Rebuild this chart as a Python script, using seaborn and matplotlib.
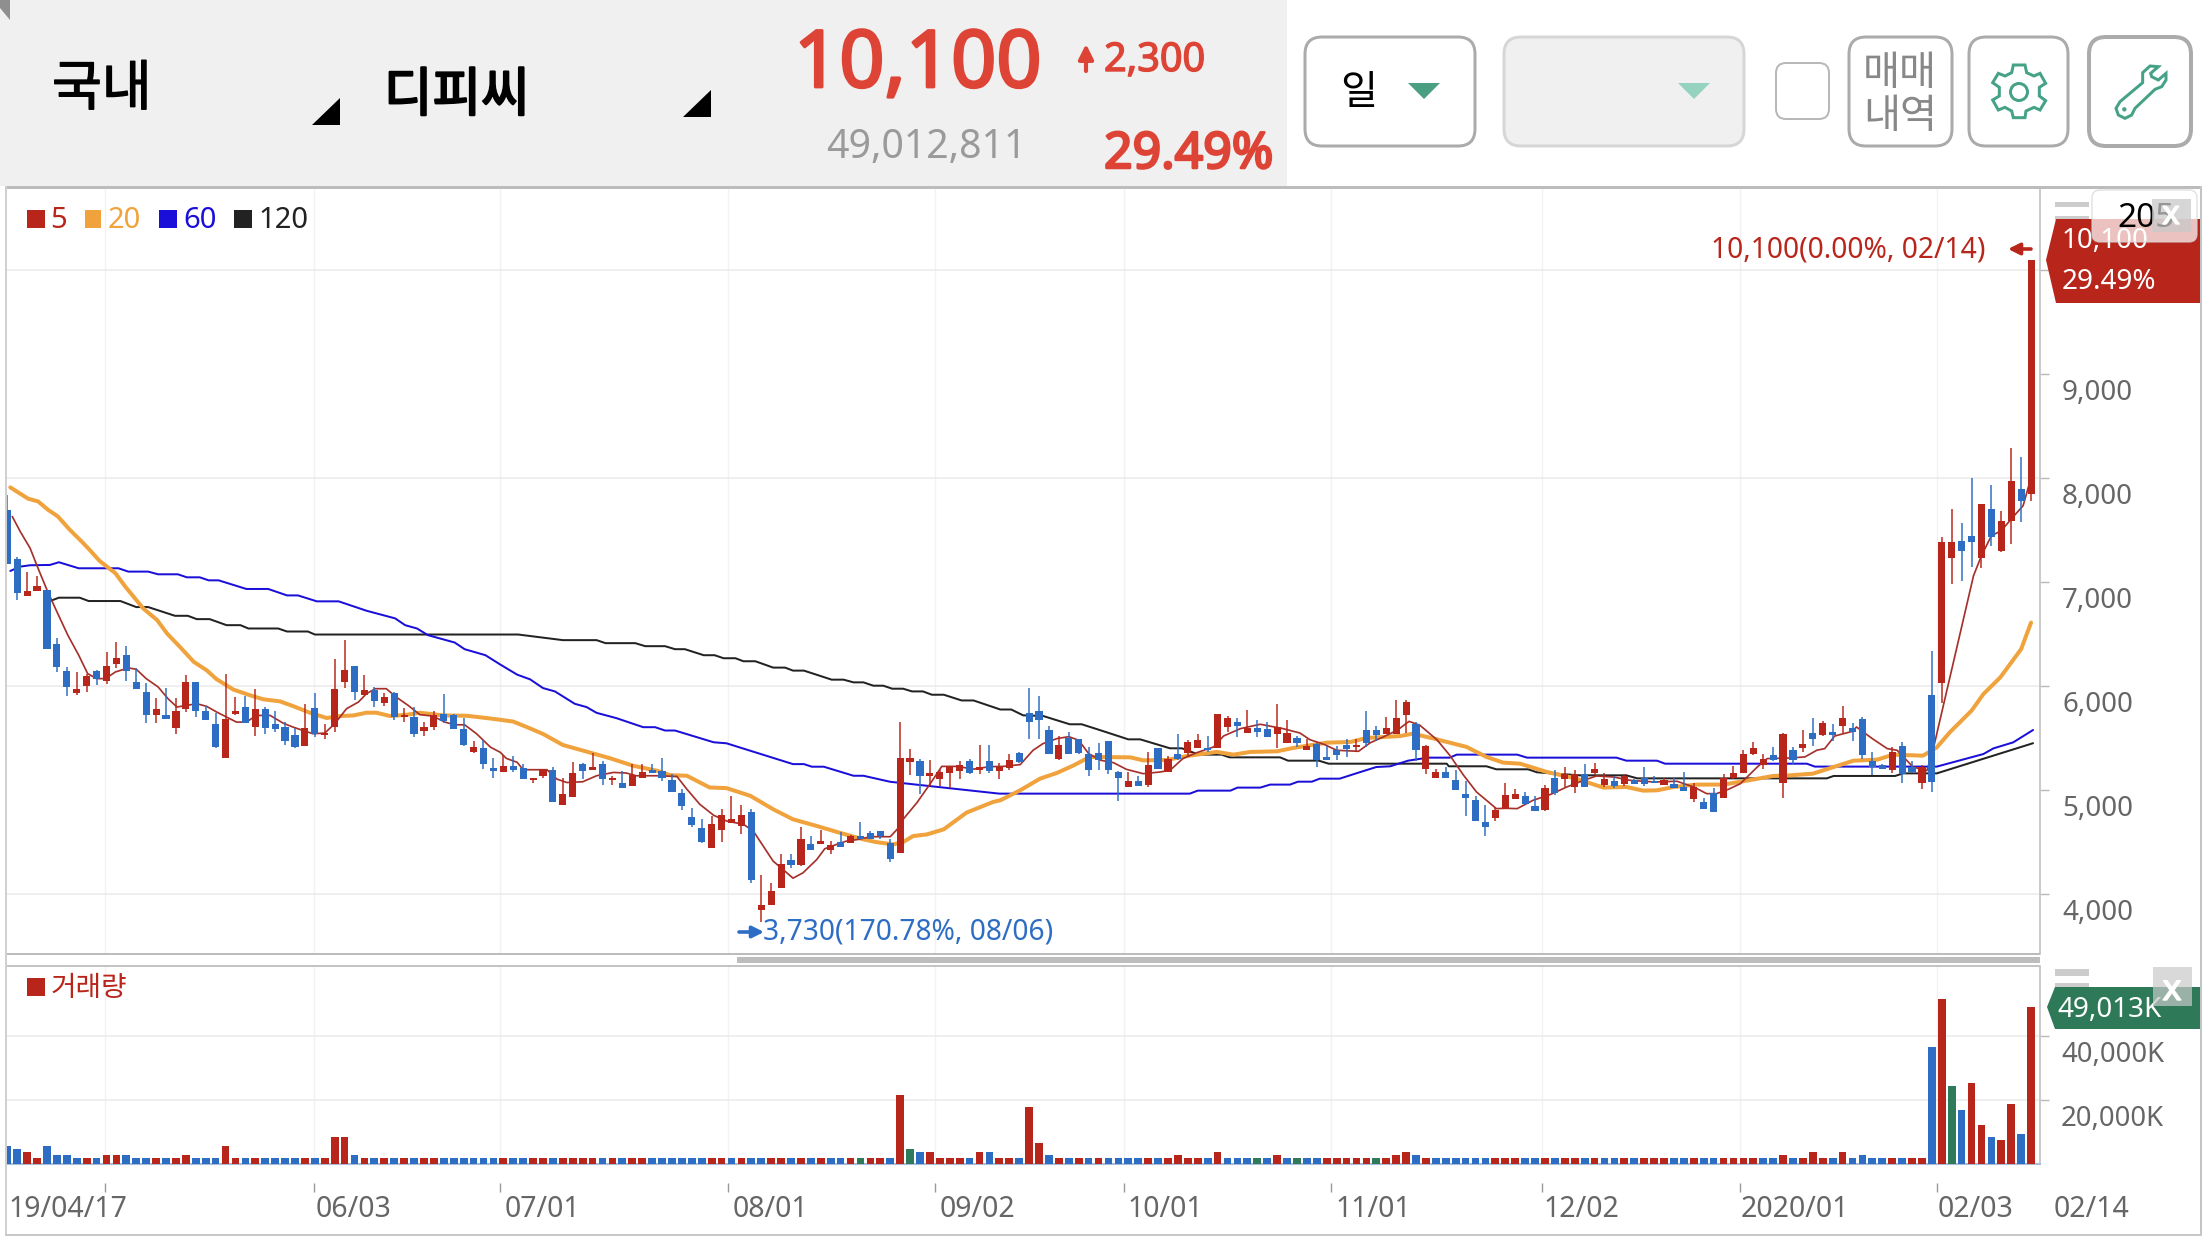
import numpy as np, pandas as pd
import matplotlib
matplotlib.use("Agg")
import matplotlib.pyplot as plt
import matplotlib.transforms as mtransforms
import matplotlib.patheffects as pe
from matplotlib.patches import FancyBboxPatch, Polygon, Rectangle, Circle
import seaborn as sns

highs = [7840,7240,7100,7060,6920,6460,6180,6130,6120,6150,6330,6420,6380,6170,6030,5880,5980,5880,6110,6040,
5810,5740,6120,5890,5900,5970,5800,5760,5650,5600,5830,5930,5630,6260,6440,6190,6110,5990,5930,5940,
5790,5800,5650,5760,5920,5730,5690,5470,5480,5310,5340,5330,5250,5120,5200,5220,5120,5270,5260,5360,
5280,5130,5180,5250,5250,5250,5310,5150,5010,4830,4720,4750,4820,4940,4860,4820,4180,4110,4380,4380,
4640,4560,4620,4510,4600,4570,4690,4610,4610,4530,5650,5390,5300,5290,5190,5230,5280,5300,5430,5430,
5260,5350,5370,5980,5900,5620,5520,5560,5490,5410,5450,5470,5180,5170,5130,5370,5400,5330,5540,5480,
5540,5520,5730,5710,5690,5770,5670,5650,5830,5670,5520,5490,5450,5420,5420,5490,5490,5760,5620,5700,
5870,5870,5650,5430,5200,5220,5190,5090,4940,4860,4840,5070,5010,4980,4940,5050,5190,5220,5190,5250,
5260,5160,5130,5150,5110,5220,5130,5120,5120,5170,5070,4920,5020,5150,5230,5380,5460,5350,5410,5550,
5410,5580,5690,5660,5630,5810,5640,5700,5370,5250,5410,5460,5280,5240,6340,7430,7700,7570,8000,7750,
7930,7680,8290,8200,10100]
tops = [7690,7220,6910,6960,6920,6400,6140,5970,6100,6140,6190,6270,6300,6040,5940,5780,5720,5760,6040,6040,
5760,5630,5680,5760,5800,5780,5780,5630,5610,5530,5600,5790,5550,5970,6150,6190,5960,5960,5890,5930,
5720,5700,5610,5720,5730,5720,5590,5410,5400,5210,5230,5230,5210,5120,5190,5190,4960,5160,5250,5220,
5250,5120,5070,5140,5170,5190,5180,5100,4970,4740,4630,4670,4760,4720,4760,4790,3890,4030,4290,4330,
4530,4480,4510,4470,4500,4560,4560,4590,4610,4490,5310,5310,5280,5160,5170,5220,5240,5280,5220,5280,
5220,5290,5360,5740,5760,5580,5430,5500,5490,5350,5360,5470,5170,5090,5090,5240,5400,5300,5350,5460,
5480,5400,5730,5690,5650,5600,5600,5590,5610,5550,5500,5420,5440,5320,5380,5430,5430,5580,5580,5600,
5690,5850,5630,5420,5170,5170,5100,4960,4900,4690,4810,4950,4960,4940,4850,5020,5120,5150,5150,5150,
5200,5110,5090,5130,5100,5120,5090,5100,5060,5030,5030,4880,4970,5120,5160,5350,5400,5300,5340,5540,
5380,5440,5550,5640,5560,5690,5600,5680,5280,5240,5370,5420,5220,5220,5910,7380,7380,7390,7440,7750,
7700,7590,7970,7890,10100]
bottoms = [7170,6890,6870,6910,6360,6180,5990,5930,6000,6070,6050,6210,6140,5970,5720,5720,5680,5600,5780,5760,
5670,5410,5310,5730,5640,5610,5600,5590,5470,5410,5420,5540,5530,5610,6040,5940,5910,5860,5840,5700,
5700,5540,5570,5610,5660,5590,5430,5370,5250,5180,5170,5190,5110,5100,5130,4880,4860,4930,5180,5190,
5110,5100,5020,5040,5120,5160,5120,4980,4850,4660,4500,4440,4620,4680,4650,4130,3850,3890,4060,4280,
4280,4420,4480,4420,4450,4490,4530,4530,4560,4340,4390,5270,5130,5130,5110,5160,5180,5160,5190,5180,
5180,5210,5270,5650,5670,5350,5300,5350,5360,5190,5290,5190,5120,5030,5040,5050,5205,5170,5300,5360,
5400,5380,5400,5610,5620,5550,5560,5510,5540,5450,5450,5380,5290,5290,5340,5390,5410,5450,5530,5540,
5540,5720,5380,5200,5120,5120,5000,4920,4700,4640,4730,4820,4910,4870,4800,4810,4970,5110,5030,5030,
5160,5050,5040,5060,5060,5060,5070,5050,5020,4990,4910,4820,4790,4920,5120,5160,5350,5240,5290,5070,
5290,5400,5490,5530,5530,5620,5560,5340,5220,5200,5190,5150,5170,5070,5080,6030,7230,7300,7380,7230,
7430,7300,7590,7780,7850]
lows = [7170,6830,6870,6910,6360,6130,5900,5910,5940,6010,6020,6170,6050,5970,5640,5640,5680,5540,5750,5700,
5670,5400,5310,5720,5640,5520,5540,5560,5430,5400,5420,5510,5490,5560,5980,5870,5910,5800,5810,5670,
5650,5510,5520,5580,5640,5590,5420,5360,5200,5120,5170,5170,5110,5070,5120,4880,4860,4930,5110,5190,
5050,5050,5020,5040,5120,5160,5090,4980,4810,4640,4490,4440,4500,4680,4580,4110,3730,3890,4060,4250,
4270,4420,4480,4380,4450,4490,4530,4530,4530,4310,4390,5140,4960,5040,5040,5020,5110,5150,5150,5160,
5110,5190,5260,5490,5490,5350,5290,5350,5350,5130,5190,5150,4890,5030,5040,5030,5205,5170,5290,5320,
5400,5370,5400,5560,5510,5550,5510,5510,5400,5450,5410,5380,5220,5290,5290,5320,5370,5410,5470,5540,
5540,5550,5280,5150,5120,5120,5000,4750,4700,4560,4700,4820,4910,4860,4800,4800,4950,5030,4970,5030,
5140,5030,5020,5040,5060,5040,5070,5050,5020,4990,4880,4820,4790,4920,5110,5160,5340,5200,5280,4920,
5250,5370,5420,5520,5470,5550,5470,5300,5140,5200,5160,5070,5160,5010,4980,5840,6980,7010,7140,7130,
7350,7290,7370,7580,7780]
candle_up = "BBRRBBBRRBRRBBBRBRRBBBRRBRBBBBRBRRRBRBRBRBRRBBBRBBRBBRRBRRBRBRBRRBBBBBBRRRRBRRRBRBRRBRBBBBRRBRRRRBRBRRB"
candle_up += "BBBRBBBBBBRBRBRBRRBRRBRBBRRBRBBBBRBBRRRBRRBBBBBRRRBBRBRRBRRBRBBBRBBRBBRRRRRBRBRBRBRBBBBRBBRBRRBBRBRRBRRBR"

volumes = [5600,4700,3800,1900,5600,2800,2800,1900,1900,1900,2800,2800,2800,1900,1900,1900,1900,1900,2800,1900,
1900,1900,5600,1900,1900,1900,1900,1900,1900,1900,1900,1900,1900,8400,8400,2800,1900,1900,1900,1900,
1900,1900,1900,1900,1900,1900,1900,1900,1900,1900,1900,1900,1900,1900,1900,1900,1900,1900,1900,1900,
1900,1900,1900,1900,1900,1900,1900,1900,1900,1900,1900,1900,1900,1900,1900,1900,1900,1900,1900,1900,
1900,1900,1900,1900,1900,1900,1900,1900,1900,1900,21600,4700,3800,3800,1900,1900,1900,1900,3800,3800,
1900,1900,1900,17800,6600,2800,1900,1900,1900,1900,1900,1900,1900,1900,1900,1900,1900,1900,2800,1900,
1900,1900,3800,1900,1900,1900,1900,1900,2800,1900,1900,1900,1900,1900,1900,1900,1900,1900,1900,1900,
2800,3800,2800,1900,1900,1900,1900,1900,1900,1900,1900,1900,1900,1900,1900,1900,1900,1900,1900,1900,
1900,1900,1900,1900,1900,1900,1900,1900,1900,1900,1900,1900,1900,1900,1900,1900,1900,1900,1900,2800,
1900,1900,3800,1900,1900,3800,1900,2800,1900,1900,1900,1900,1900,1900,36500,51500,24400,16900,25200,12200,
8400,7500,18800,9400,49013]
unchanged_days = [86, 91, 126, 130, 138, 196]

ma5_x = [0.5,1.3,2.3,3.1,4,5,6.1,7.2,8.1,9,9.9,10.9,12.2,13,14,15.2,16.2,17.1,18.1,19.1,20.1,21.1,22.1,23.1,24.1,25.1,26.5,27.8,28.8,29.8,30.8,32,33,34.2,35.4,36.2,37.1,38.2,39.2,40.4,41.6,42.9,44.1,45.1,46.1,47.3,48.7,49.7,50.3,51.4,52,53,54.4,55.4,56.4,58,59.4,61.1,62.4,63.4,65.5,67.5,68.5,69.8,71.2,72.5,74.2,75.2,76.2,77.2,78.2,79.2,80.2,81.6,82.4,83.6,84.6,85.8,87,89,89.7,90.3,91.7,93,94.2,95.7,97.4,99,100.4,102.1,103.4,104.4,105.8,107,108,109,110.2,111.5,112.8,114.5,116.2,117.2,118.5,119.9,121.6,122.6,124.3,126.3,128.6,130.3,131.3,132.8,134,136.2,137.4,138.7,140.1,141.3,142.4,144.1,145.4,146.8,148.1,150.1,151.1,152.2,153.8,155.5,157.2,158.9,160.2,161.9,163.6,166,168.3,170,171.3,172.3,173.5,174.7,176.4,177.4,179.7,181.2,182.4,183.2,184.2,186,186.4,188,189.5,190.5,192.1,193.5,194.1,198.2,199,200,201,202,203.2,204]
ma5 = [7630,7486,7325,7132,6923,6714,6489,6296,6119,6071,6071,6135,6174,6161,6071,5991,5878,5798,5814,5830,5804,5750,5701,5653,5653,5717,5717,5643,5605,5573,5541,5547,5637,5782,5846,5926,5974,5974,5894,5814,5724,5711,5653,5627,5627,5541,5412,5362,5304,5266,5195,5195,5195,5105,5072,5079,5137,5169,5163,5137,5137,5130,5008,4863,4757,4702,4670,4605,4461,4316,4235,4152,4203,4332,4435,4477,4509,4525,4551,4551,4622,4718,4879,5056,5227,5227,5201,5224,5227,5244,5382,5446,5494,5513,5478,5350,5286,5263,5199,5157,5173,5189,5302,5359,5414,5519,5590,5632,5590,5548,5484,5436,5382,5372,5455,5510,5574,5660,5622,5484,5334,5141,4981,4821,4824,4821,4901,4955,5029,5093,5135,5125,5093,5077,5084,5029,4965,4965,5007,5061,5221,5302,5308,5318,5382,5398,5519,5564,5606,5494,5398,5382,5221,5186,5378,7061,7253,7445,7493,7606,7734,8006]

ma20_x = [0.3,2.1,3.1,4.1,5.1,6.3,7.5,8.3,9.3,10.9,11.9,13.7,15.1,16.1,17.4,18.8,20.1,21.1,22.8,24.5,25.8,27.5,28.8,30.5,32.2,33.5,34.9,36.2,37.2,38.6,40.3,41.6,44,46.3,48.3,49.7,51,52.4,54,56,58.4,60.8,63.1,65.5,66.8,68.5,70.8,72.5,74.9,77.2,79.2,81.6,83.9,86.3,87.6,89.3,90.3,91.3,92.7,94.4,96.7,99.4,100.1,102.1,104.1,105.8,107.5,109.1,113.2,114.5,116.9,118.9,121.9,123.6,125.3,128,129.6,133,135.4,137,140.4,141.7,143.8,147.1,149.1,150.8,152.5,155.2,157.9,160.9,163.2,164.9,166.3,168,170.3,173,175,178,179.7,182,184.1,186.1,188.5,190.1,193.1,194.5,195.8,198,199.2,200.9,203,204]
ma20 = [7910,7801,7775,7695,7630,7502,7389,7309,7203,7084,6955,6746,6634,6505,6376,6232,6151,6065,5965,5910,5872,5852,5807,5743,5692,5711,5717,5743,5743,5711,5724,5743,5717,5714,5692,5675,5658,5604,5539,5433,5369,5304,5233,5185,5143,5137,5024,5018,4944,4815,4718,4654,4589,4525,4499,4477,4499,4557,4573,4622,4783,4886,4901,4997,5109,5164,5237,5318,5314,5285,5289,5327,5366,5340,5366,5372,5404,5455,5462,5500,5519,5542,5494,5414,5318,5263,5253,5173,5116,5023,5029,4994,4997,5029,5052,5052,5084,5135,5141,5157,5221,5282,5292,5340,5330,5410,5554,5763,5923,6083,6355,6610]

ma60_x = [0.3,1.3,2.3,4.3,5.2,7.2,11.2,12.2,14.2,15.2,17.2,18.1,19.4,20.3,21.3,24.1,26.3,28.2,29.3,31.2,33.4,36.2,39.1,40.1,41.3,42.4,45.1,46.1,48.2,49.7,51.4,52.7,54,55.2,57.2,58.4,59.4,61.4,64.1,65.3,66.3,67.3,71.2,72.5,79.2,80.3,81.1,82.3,85.3,86.3,89,100,119.2,120,123.3,124,126.3,127.3,129.3,130.1,131.5,132.3,134.3,136.2,138,139.4,141.2,143.2,145.4,146.1,152.2,153.2,162.2,163.2,166.3,167.1,181.4,182.2,194.5,199.2,200.2,202.2,204.2]
ma60 = [7106,7148,7161,7164,7190,7132,7132,7100,7100,7074,7074,7045,7045,7016,7016,6933,6933,6871,6871,6814,6814,6724,6650,6585,6553,6489,6418,6354,6296,6206,6109,6064,5980,5948,5829,5797,5742,5691,5604,5604,5572,5572,5459,5449,5249,5249,5224,5224,5137,5137,5079,4965,4965,4994,4994,5023,5023,5052,5052,5080,5080,5109,5109,5167,5221,5228,5282,5311,5311,5340,5340,5311,5311,5282,5282,5253,5253,5225,5225,5346,5400,5458,5577]

ma120_x = [4.3,5.2,7.3,8.2,11.4,13,14.2,16.9,18.2,19.1,20.4,22.1,23.5,24.3,27.3,28.2,30.3,31,51.5,56,59.4,60.3,63.3,64.3,66.3,67.3,68.3,70.2,71.3,72.2,73.4,74.2,75.4,77.2,78.4,79.2,80.3,83.1,84.3,85.3,86.3,87.3,88.3,89.2,90.3,91.2,92.3,93.2,94.4,96.2,97.4,100.1,101.2,102.4,104.4,107.1,108.3,110.2,113,114.2,117.2,118.4,120.1,122.4,123.2,128.3,129.1,132.2,133.2,145.1,145.3,149.1,150.1,153.3,154.2,158.5,163.2,164.3,183.4,184.1,190.3,191.1,194.5,204.2]
ma120 = [6817,6849,6849,6817,6817,6759,6759,6675,6675,6643,6643,6585,6585,6553,6553,6524,6524,6495,6495,6441,6441,6412,6412,6383,6383,6354,6354,6296,6296,6267,6267,6238,6238,6177,6177,6148,6148,6061,6061,6035,6035,6003,6003,5974,5974,5948,5948,5916,5916,5861,5861,5774,5774,5718,5712,5632,5632,5574,5487,5487,5401,5401,5340,5340,5314,5314,5282,5282,5253,5253,5228,5228,5199,5199,5170,5141,5141,5112,5112,5135,5135,5160,5160,5450]

price_ticks = [4000,5000,6000,7000,8000,9000,10000]
price_gridded = [4000,6000,8000,10000]
volume_ticks = [20000,40000]
grid_positions = [9.8,30.9,49.7,72.6,93.5,112.6,133.4,154.7,174.7,194.5]
date_labels = ["19/04/17","06/03","07/01","08/01","09/02","10/01","11/01","12/02","2020/01","02/03","02/14"]
date_label_pos = [0.1,31.1,50.1,73.1,94.0,112.9,133.9,154.8,174.7,194.6,206.3]

W, H = 2208, 1242
RED, BLUE, GREEN = "#b8261b", "#2e6dc4", "#2f7a5a"
ORANGE, NAVY, BLACK = "#f0a23c", "#1a0fd8", "#222222"
TEAL, GRID = "#45a287", "#ebebeb"
PX = 0.72

sns.set_theme(style="white")
plt.rcParams["font.family"] = ["Noto Sans", "Noto Sans CJK KR", "DejaVu Sans"]
fig = plt.figure(figsize=(W/100, H/100), dpi=100, facecolor="white")

def box(l, t, r, b):
    return fig.add_axes([l/W, 1-b/H, (r-l)/W, (b-t)/H])

n = len(highs)
idx = np.arange(n)
ups = np.array([c == "R" for c in candle_up[:n]])
t_, b_, h_, l_ = map(np.array, (tops, bottoms, highs, lows))
close_vals = np.where(ups, t_, b_)

state = ["same" if i in unchanged_days else ("up" if i > 0 and close_vals[i] >= close_vals[i-1] else "down") for i in idx]

XMIN, XMAX = -0.03, 204.9
# ---- price pane
ax = box(7, 187, 2040, 954)
for vals_x, vals, c, w in [(ma120_x, ma120, BLACK, 2), (ma60_x, ma60, NAVY, 2), (ma20_x, ma20, ORANGE, 4), (ma5_x, ma5, "#a5302a", 1.7)]:
    sns.lineplot(x=vals_x, y=vals, ax=ax, color=c, linewidth=w*PX, estimator=None, sort=False, legend=False, zorder=2)
colors = np.where(ups, RED, BLUE)
ax.vlines(idx, l_, h_, colors=colors, linewidth=1.5*PX, zorder=3)
ax.bar(idx, t_-b_, bottom=b_, width=0.72, color=colors, linewidth=0, zorder=3)
ax.set_xlim(XMIN, XMAX)
ax.set_ylim(4000-(954-894)/0.104, 4000+(894-187)/0.104)
ax.set_xticks(grid_positions, labels=[""]*len(grid_positions))
ax.set_yticks(price_ticks, labels=[f"{v:,}" if v < 10000 else "" for v in price_ticks])
ax.yaxis.tick_right()
ax.tick_params(axis="x", length=0)
ax.tick_params(axis="y", length=9*PX, width=1, color="#b8b8b8", pad=13*PX, labelsize=20, labelcolor="#666666")
off = mtransforms.ScaledTranslation(0, -16/100, fig.dpi_scale_trans)
for lab in ax.get_yticklabels():
    lab.set_transform(lab.get_transform()+off)
ax.grid(True, axis="y", color=GRID, lw=1.1)
ax.grid(True, axis="x", color="#f2f2f2", lw=1)
for tick, v in zip(ax.yaxis.get_major_ticks(), price_ticks):
    tick.gridline.set_visible(v in price_gridded)
ax.set_axisbelow(True)
for s in ("top", "left", "bottom"):
    ax.spines[s].set_visible(False)
ax.spines["right"].set_color("#c4c4c4")
ax.set_xlabel(""); ax.set_ylabel("")

# ---- volume pane
av = box(7, 966, 2040, 1164)
frame = pd.DataFrame({"i": idx, "v": volumes, "s": state})
sns.barplot(data=frame, x="i", y="v", hue="s", native_scale=True, dodge=False, width=0.78, saturation=1, linewidth=0,
            palette={"up": RED, "down": BLUE, "same": GREEN}, legend=False, ax=av, zorder=3)
av.set_xlim(XMIN, XMAX)
av.set_ylim(0, 198/0.0032)
av.set_xticks(grid_positions, labels=[""]*len(grid_positions))
av.set_yticks(volume_ticks, labels=[f"{v:,}K" for v in volume_ticks])
av.yaxis.tick_right()
av.tick_params(axis="x", length=0)
av.tick_params(axis="y", length=9*PX, width=1, color="#b8b8b8", pad=12*PX, labelsize=19.8, labelcolor="#666666")
for lab in av.get_yticklabels():
    lab.set_transform(lab.get_transform()+off)
av.grid(True, axis="y", color=GRID, lw=1.1)
av.grid(True, axis="x", color="#f2f2f2", lw=1)
av.set_axisbelow(True)
for s in ("top", "left"):
    av.spines[s].set_visible(False)
av.spines["bottom"].set_color("#a9bdd8")
av.spines["bottom"].set_linewidth(1.5)
av.spines["right"].set_color("#c4c4c4")
av.set_xlabel(""); av.set_ylabel("")

# ---- date axis
ad = box(7, 1182, 2040, 1182.5)
ad.set_xlim(XMIN, XMAX)
ad.set_ylim(0, 1)
ad.patch.set_visible(False)
for s in ad.spines.values():
    s.set_visible(False)
ad.set_yticks([])
ad.set_xticks(grid_positions, labels=[""]*len(grid_positions))
ad.tick_params(axis="x", length=9*PX, width=1, color="#999999", bottom=True)

# ---- chrome overlay in image pixels
ov = fig.add_axes([0, 0, 1, 1], zorder=10)
ov.set_xlim(0, W); ov.set_ylim(H, 0)
ov.axis("off"); ov.patch.set_visible(False)
date_tf = mtransforms.blended_transform_factory(ad.transData, ov.transData)
for p, s in zip(date_label_pos, date_labels):
    ov.text(p, 1217, s, transform=date_tf, fontsize=20.5, color="#666666", ha="left", va="baseline")

def rect(x0, y0, x1, y1, c, z=1, a=1):
    ov.add_patch(Rectangle((x0, y0), x1-x0, y1-y0, fc=c, ec="none", zorder=z, alpha=a))
def txt(x, y, s, size, c, ha="left", stroke=0, z=8, family=None):
    t = ov.text(x, y, s, fontsize=size, color=c, ha=ha, va="baseline", zorder=z)
    if family:
        t.set_family(family)
    if stroke:
        t.set_path_effects([pe.withStroke(linewidth=stroke, foreground=c)])
    return t
def poly(pts, c, z=3, a=1):
    ov.add_patch(Polygon(pts, closed=True, fc=c, ec="none", zorder=z, alpha=a))
def button(x0, y0, x1, y1, fc="white", ec="#ababab", lw=3, r=17):
    ov.add_patch(FancyBboxPatch((x0+r, y0+r), x1-x0-2*r, y1-y0-2*r, boxstyle=f"round,pad={r},rounding_size={r}",
                                fc=fc, ec=ec, lw=lw*PX, zorder=3))
def arrow(x0, y0, x1, y1, c, ms=17, lw=2.6):
    ov.annotate("", xy=(x1, y1), xytext=(x0, y0), zorder=8,
                arrowprops=dict(arrowstyle="-|>", color=c, lw=lw, mutation_scale=ms, shrinkA=0, shrinkB=0))

rect(0, 0, 1287, 186, "#f0f0f0", z=1)
poly([(0, 0), (10, 0), (10, 20), (0, 8)], "#8f8f8f")
# frames
rect(6, 186, 2202, 189, "#bcbcbc", z=2)
rect(6, 953, 2040, 955, "#bcbcbc", z=2)
rect(6, 965, 2040, 967, "#c4c4c4", z=2)
rect(737, 957, 2040, 963, "#bdbdbd", z=2)
rect(5, 186, 7, 1236, "#d0d0d0", z=2)
rect(2200, 186, 2202, 1236, "#c4c4c4", z=2)
rect(5, 1234, 2202, 1236, "#c8c8c8", z=2)

CJK = ["Noto Sans CJK KR", "DejaVu Sans"]
txt(52, 105, "국내", 39, "black", stroke=1, family=CJK)
txt(384, 111, "디피씨", 38, "black", stroke=1.6, family=CJK)
poly([(312, 125), (340, 125), (340, 98)], "black")
poly([(683, 117), (711, 117), (711, 90)], "black")
txt(794, 87, "10,100", 57, "#dd4436", stroke=2)
arrow(1086, 71, 1086, 44, "#dd4436", ms=22, lw=3)
txt(1104, 71, "2,300", 28.5, "#dd4436", stroke=1)
txt(826, 158, "49,012,811", 28.3, "#9a9a9a")
txt(1104, 168, "29.49%", 36, "#dd4436", stroke=1.8)

button(1305, 37, 1475, 146)
button(1504, 37, 1744, 146, fc="#f0f0f0", ec="#d6d6d6")
button(1776, 63, 1829, 119, ec="#b8b8b8", lw=2, r=10)
button(1849, 37, 1952, 146)
button(1969, 37, 2068, 146)
button(2089, 37, 2191, 146, lw=4)
txt(1340, 104, "일", 29, "black", family=CJK)
poly([(1408, 83), (1440, 83), (1424, 99)], "#4a9e82", z=8)
poly([(1678, 83), (1710, 83), (1694, 99)], "#96d2c0", z=8)
txt(1900, 85, "매매", 29, "#888888", ha="center", family=CJK)
txt(1900, 128, "내역", 29, "#888888", ha="center", family=CJK)
gear = [(160,105),(195,105),(200,128),(222,138),(240,130),(257,160),(238,172),(238,198),(257,212),(240,240),(222,232),(198,243),(195,263),(160,263),(155,243),(135,232),(115,240),(98,210),(118,198),(118,172),(98,158),(115,130),(135,138),(155,128)]
ov.add_patch(Polygon([(1960+a/3, 30+b/3) for a, b in gear], closed=True, fc="none", ec=TEAL, lw=3*PX, zorder=8))
ov.add_patch(Circle((2019, 92), 8.5, fc="none", ec=TEAL, lw=3*PX, zorder=8))
wrench = [(595,110),(570,108),(548,128),(548,158),(480,215),(468,235),(475,255),(495,265),(515,255),(525,235),(585,178),(605,170),(618,150),(618,130),(595,150),(575,140),(572,130)]
ov.add_patch(Polygon([(1960+a/3, 30+b/3) for a, b in wrench], closed=True, fc="none", ec=TEAL, lw=3*PX, zorder=8))
ov.add_patch(Circle((1960+493/3, 30+238/3), 2.2, fc=TEAL, ec="none", zorder=8))

# legends
for x0, x1, xt, s, c in [(27, 45, 50, "5", RED), (85, 101, 108, "20", ORANGE), (159, 177, 183, "60", NAVY), (234, 252, 258, "120", BLACK)]:
    rect(x0, 210, x1, 228, c, z=8)
    txt(xt, 228, s, 21, c)
rect(27, 978, 45, 996, RED, z=8)
txt(51, 996, "거래량", 20, RED, family=CJK)

# price annotations
txt(1711, 257, "10,100(0.00%, 02/14)", 20.3, RED)
arrow(2031, 249, 2008, 249, RED)
arrow(739, 932, 764, 932, BLUE)
txt(763, 940, "3,730(170.78%, 08/06)", 20.3, BLUE)

# right side tags
rect(2055, 202, 2089, 207, "#cccccc", z=4)
rect(2055, 216, 2089, 220, "#cccccc", z=4)
poly([(2046, 260), (2056, 219), (2200, 219), (2200, 303), (2056, 303)], RED, z=5)
txt(2062, 248, "10,100", 20, "white", z=6)
txt(2062, 289, "29.49%", 20, "white", z=6)
ov.add_patch(FancyBboxPatch((2100, 198), 89, 36, boxstyle="round,pad=8,rounding_size=8", fc="white", ec="#d5d5d5", lw=1, alpha=0.72, zorder=7))
txt(2117, 227, "205", 24, "black", z=7.2)
rect(2152, 199, 2191, 232, "#c9c9c9", z=7.5, a=0.75)
txt(2171, 224, "x", 24, "white", ha="center", stroke=1, z=8)

rect(2055, 969, 2089, 976, "#cccccc", z=4)
rect(2055, 983, 2089, 989, "#cccccc", z=4)
poly([(2047, 1007), (2055, 987), (2200, 987), (2200, 1029), (2055, 1029)], "#2e7a58", z=5)
txt(2057, 1017, "49,013K", 20, "white", z=6)
rect(2153, 967, 2192, 1006, "#c9c9c9", z=7, a=0.7)
txt(2172, 1000, "x", 26, "white", ha="center", stroke=1, z=8)

fig.savefig("out.png", dpi=100)
